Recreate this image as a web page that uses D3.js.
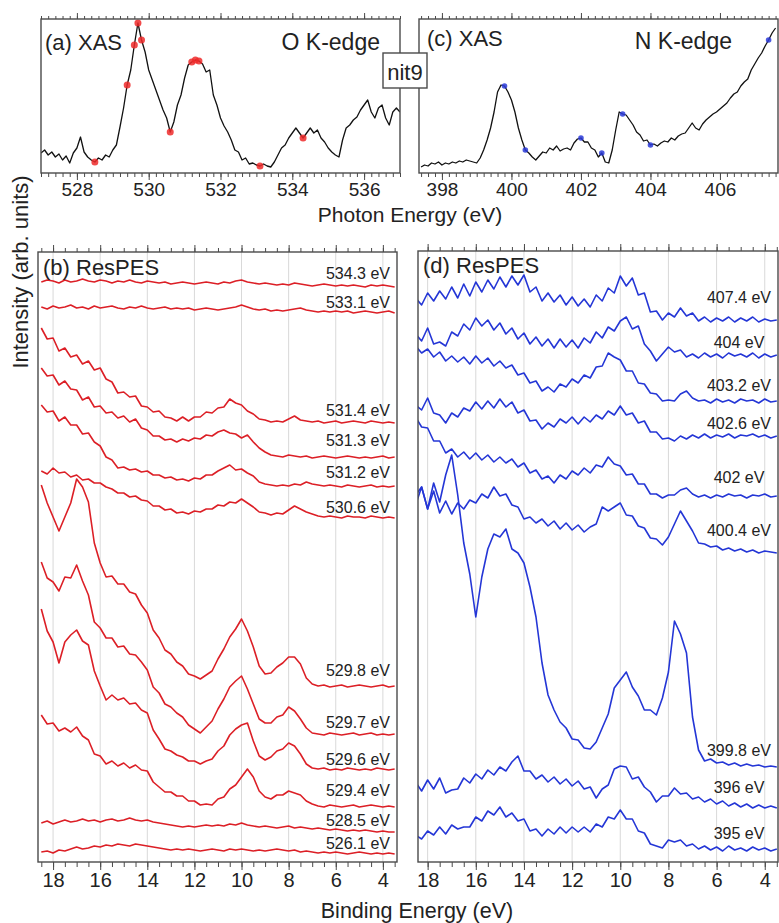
<!DOCTYPE html>
<html><head><meta charset="utf-8">
<script src="https://cdn.jsdelivr.net/npm/d3@7/dist/d3.min.js"></script>
<style>
body{margin:0;background:#fff}
text{font-family:"Liberation Sans",Arial,Helvetica,sans-serif;fill:#222}
</style></head>
<body><svg id="fig" width="779" height="923"></svg>
<script>
// ---------------- DATA ----------------
// XAS O K-edge: photon energy 527.0 .. 537.0 (0.1 eV steps)
const photonStartO = 527.0, photonStepO = 0.1;
const xasO = [20,23,18,21,16,19,13,17,10,20,
25,36,21,16,13,11,15,13,18,16,
23,28,46,65,88,103,128,150,133,121,
103,93,83,73,63,55,41,51,68,78,
95,108,111,113,112,109,101,103,78,68,
55,47,41,33,23,21,13,15,9,10,
8,7,9,7,6,11,18,25,28,35,
40,45,40,35,40,45,40,43,35,31,
25,21,18,16,33,45,48,53,56,63,
68,73,61,55,65,68,55,48,61,65,
61];
const markersO = [528.5,529.4,529.6,529.7,529.8,530.6,531.2,531.3,531.4,533.1,534.3];

// XAS N K-edge: photon energy 397.4 .. 407.6 (0.1 eV steps)
const photonStartN = 397.4, photonStepN = 0.1;
const xasN = [6,8,7,10,9,11,8,10,9,11,
10,12,11,13,12,11,10,15,23,33,
45,61,81,88,87,81,73,61,45,33,
23,20,16,13,17,21,20,25,23,27,
22,24,25,23,30,34,35,31,31,25,
23,16,20,11,10,23,43,61,59,58,
53,48,41,38,32,33,28,29,27,30,
32,31,35,33,37,39,40,45,50,45,
43,49,53,56,59,61,64,67,70,75,
79,81,87,91,94,103,109,115,120,127,
133,140,145];
const markersN = [399.8,400.4,402,402.6,403.2,404,407.4];

// ResPES binding energy grid: 18.5 .. 3.5 eV (0.25 eV steps)
const beStart = 18.5, beStep = -0.25, beCount = 61;

// (b) O K-edge ResPES
const labelsB = ["534.3 eV","533.1 eV","531.4 eV","531.3 eV","531.2 eV","530.6 eV","529.8 eV","529.7 eV","529.6 eV","529.4 eV","528.5 eV","526.1 eV"];
const offsetsB = [575,549,439,404,375,344,175,127,92,55,30,7];
const b5343 = [5,7,6,4,7,5,6,8,6,5,7,6,4,6,5,7,5,4,6,5,4,5,3,4,5,4,3,4,5,4,3,5,4,6,7,5,4,3,4,3,2,3,2,4,3,2,1,2,3,2,1,2,1,2,1,0,2,1,2,1,0];
const b5331 = [6,4,7,5,6,8,5,6,4,7,5,6,7,5,4,6,5,7,5,4,5,6,4,5,4,5,3,4,5,4,3,4,5,6,8,6,4,3,4,2,3,2,3,4,5,3,2,1,2,1,2,1,2,0,1,2,1,0,1,2,0];
const b5314 = [95,84,85,72,75,66,68,59,62,53,55,44,41,30,31,26,27,17,16,11,12,6,5,2,6,2,6,6,11,10,15,16,24,20,18,12,9,4,3,1,2,1,4,7,3,2,1,2,0,1,2,0,1,2,1,0,2,1,0,1,0];
const b5313 = [90,82,83,73,77,69,68,58,61,51,52,45,46,40,42,36,39,30,28,22,22,18,19,16,19,17,20,19,23,22,26,28,25,24,20,23,16,10,6,3,2,1,3,2,1,2,0,1,2,1,0,1,2,1,0,1,0,1,2,0,1];
const b5312 = [82,75,76,66,70,62,62,53,54,45,41,30,27,19,20,17,18,15,16,12,12,9,10,7,8,6,9,8,12,12,16,19,22,17,18,14,11,5,3,2,1,2,1,3,2,5,3,2,1,2,1,0,2,1,0,1,2,0,1,0,1];
const b5306 = [47,44,50,45,46,41,43,38,39,35,35,31,29,25,25,21,22,18,17,12,12,8,9,5,6,4,7,6,9,9,13,12,16,15,19,15,11,6,5,3,5,4,8,12,9,6,4,2,1,2,1,0,2,1,1,0,2,1,0,1,0];
const b5298 = [202,184,170,156,170,184,208,200,185,144,124,110,111,103,103,95,93,82,74,57,49,37,33,25,21,13,11,8,12,16,28,38,50,58,68,56,40,21,13,14,20,24,30,30,23,9,3,1,2,0,1,2,0,1,2,1,0,1,2,0,1];
const b5297 = [173,157,153,144,158,157,170,154,140,113,107,97,97,88,89,81,80,73,65,48,42,31,28,22,18,10,6,2,8,14,26,36,48,54,59,46,31,16,12,12,18,20,28,24,16,7,2,1,0,2,1,0,1,2,0,1,2,0,1,0,1];
const b5296 = [161,139,128,107,128,135,140,129,125,99,84,70,75,70,72,66,67,60,57,40,31,21,19,15,13,9,9,6,9,11,19,24,35,41,45,47,29,14,10,13,19,21,27,24,16,6,2,1,2,0,1,0,2,1,0,1,0,2,1,0,1];
const b5294 = [92,83,84,76,79,75,80,71,67,53,51,43,46,41,44,39,42,37,36,25,20,15,15,11,11,6,6,2,3,2,8,10,18,22,30,38,30,16,10,8,12,12,16,14,12,6,3,1,0,2,1,0,1,2,0,1,2,1,0,1,0];
const b5285 = [9,11,8,10,12,10,11,13,11,12,10,12,13,11,12,14,12,11,12,10,9,8,7,6,5,6,5,6,7,6,7,6,8,7,9,7,6,5,6,5,4,5,6,4,5,4,3,4,3,2,3,2,1,2,1,2,1,0,1,0,0];
const b5261 = [3,4,2,5,4,6,8,6,7,9,8,10,9,11,10,9,11,10,9,8,7,6,5,6,5,6,5,4,5,6,5,4,6,5,6,5,4,5,4,5,6,5,4,5,3,4,3,2,3,2,3,2,1,2,3,2,1,2,1,2,1];
const seriesB = [b5343,b5331,b5314,b5313,b5312,b5306,b5298,b5297,b5296,b5294,b5285,b5261];

// (d) N K-edge ResPES
const labelsD = ["407.4 eV","404 eV","403.2 eV","402.6 eV","402 eV","400.4 eV","399.8 eV","396 eV","395 eV"];
const offsetsD = [540,505,460,425,365,309,95,54,12];
const d4074 = [24,17,29,21,31,23,35,24,38,26,40,30,42,33,45,35,46,37,47,30,35,21,29,20,27,17,25,16,23,15,27,21,34,29,46,36,44,27,29,10,11,2,9,5,14,6,9,1,5,0,4,1,5,0,4,1,5,0,3,1,2];
const d4040 = [23,16,29,13,15,11,25,21,33,27,39,31,37,27,34,23,29,18,24,13,20,11,18,9,18,10,17,9,19,14,25,19,30,26,36,40,28,31,13,6,-4,3,10,5,7,0,3,-1,4,0,3,-1,4,1,3,0,4,-1,3,0,2];
const d4032 = [56,49,53,45,50,41,46,40,45,38,46,39,44,36,41,34,37,27,29,19,21,11,15,10,18,15,23,19,27,24,35,36,49,45,42,31,31,19,18,9,8,1,2,1,8,11,4,1,2,-1,3,0,2,-1,3,1,2,-1,3,0,1];
const d4026 = [32,27,39,24,22,14,24,20,29,26,35,28,36,29,38,30,35,24,27,16,17,8,14,10,18,14,20,13,20,15,22,18,26,22,31,22,24,14,16,5,5,-2,-1,-4,1,-2,2,-1,3,-1,2,0,3,-1,2,1,3,0,2,-1,1];
const d4020 = [80,70,69,56,56,44,48,40,45,38,44,37,42,35,40,34,38,30,34,24,27,18,21,14,22,18,26,22,29,24,32,30,40,33,31,22,23,13,13,3,3,-1,2,2,7,9,3,0,2,-1,2,0,3,1,2,-1,2,1,3,0,1];
const d4004 = [58,66,44,62,40,52,39,50,44,53,50,59,55,66,57,59,48,46,34,36,30,34,27,32,24,30,23,28,21,26,29,46,42,46,50,38,37,27,25,15,14,8,16,29,42,32,22,10,9,6,7,3,5,2,4,1,3,0,2,1,0];
const d3998 = [262,280,258,284,265,292,312,272,224,193,150,190,218,233,230,238,218,214,204,180,150,104,72,57,45,39,28,27,19,18,25,39,53,79,87,95,80,71,57,57,52,69,95,146,133,114,50,17,6,8,4,5,2,4,1,3,1,2,0,1,0];
const d3960 = [26,17,28,19,30,15,18,19,30,25,34,29,38,33,41,37,46,52,37,37,29,33,26,31,24,29,22,27,19,21,10,19,23,39,42,41,29,31,21,16,6,12,12,20,14,15,9,11,6,9,4,7,2,5,1,4,0,3,0,2,0];
const d3950 = [15,11,19,15,23,16,25,21,23,23,33,29,39,35,43,33,37,29,31,19,21,14,21,16,23,17,23,18,23,18,26,23,33,31,40,31,31,19,17,6,4,2,10,8,10,4,6,1,4,0,3,-1,4,0,2,-1,3,0,2,-1,1];
const seriesD = [d4074,d4040,d4032,d4026,d4020,d4004,d3998,d3960,d3950];

const tickLabelsO = [528,530,532,534,536];
const tickLabelsN = [398,400,402,404,406];
const tickLabelsBE = [18,16,14,12,10,8,6,4];

// ---------------- LAYOUT / STYLE ----------------
const labelLiftB = [14,11,13,18,15,11,17,13,11,17,12,12];
const labelLiftD = [25,15,17,14,20,23,17,21,17];
const RED = "#dc1f26", BLUE = "#2436d6", FRAME = "#4a4a4a";

const svg = d3.select("#fig");
const P = {
  a:{x0:41,x1:400,y0:19,y1:173,dom:[527,537],ydom:[0,154]},
  c:{x0:419,x1:778,y0:19,y1:173,dom:[397.34,407.67],ydom:[0,154]},
  b:{x0:38,x1:397,y0:252,y1:862,dom:[18.64,3.4],ydom:[0,610]},
  d:{x0:418,x1:778,y0:251,y1:862,dom:[18.4,3.45],ydom:[0,611]}
};
for (const k in P){
  const p=P[k];
  p.x=d3.scaleLinear().domain(p.dom).range([p.x0,p.x1]);
  p.y=d3.scaleLinear().domain(p.ydom).range([p.y1,p.y0]);
  svg.append("clipPath").attr("id","clip"+k).append("rect")
    .attr("x",p.x0).attr("y",p.y0).attr("width",p.x1-p.x0).attr("height",p.y1-p.y0);
}

function ticks(p, minorVals, majorVals, labels, minorB, majorB, minorT, majorT, fs){
  const gB = svg.append("g").attr("transform",`translate(0,${p.y1})`);
  gB.call(d3.axisBottom(p.x).tickValues(minorVals).tickSize(minorB).tickFormat(""));
  gB.call(g=>g.select(".domain").remove());
  const gB2 = svg.append("g").attr("transform",`translate(0,${p.y1})`);
  gB2.call(d3.axisBottom(p.x).tickValues(majorVals).tickSize(majorB).tickPadding(3).tickFormat(d=>labels.includes(d)?d:""));
  gB2.call(g=>g.select(".domain").remove());
  gB2.selectAll("text").style("font-size",fs+"px").attr("fill","#222");
  const gT = svg.append("g").attr("transform",`translate(0,${p.y0})`);
  gT.call(d3.axisTop(p.x).tickValues(minorVals).tickSize(minorT).tickFormat(""));
  gT.call(g=>g.select(".domain").remove());
  const gT2 = svg.append("g").attr("transform",`translate(0,${p.y0})`);
  gT2.call(d3.axisTop(p.x).tickValues(majorVals).tickSize(majorT).tickFormat(""));
  gT2.call(g=>g.select(".domain").remove());
  svg.selectAll(".tick line").attr("stroke",FRAME).attr("stroke-width",1);
}
function inDom(p,v){const a=Math.min(...p.dom),b=Math.max(...p.dom);return v>=a-1e-9&&v<=b+1e-9;}

// ---- Top panels ticks
for (const k of ["a","c"]){
  const p=P[k];
  const lo=Math.ceil(Math.min(...p.dom)*5)/5, hi=Math.max(...p.dom);
  const minor=[]; for(let v=lo; v<=hi+1e-9; v=+(v+0.2).toFixed(2)) minor.push(+v.toFixed(2));
  const major=[]; for(let v=Math.ceil(Math.min(...p.dom)); v<=hi; v++) major.push(v);
  const labs = k==="a"?tickLabelsO:tickLabelsN;
  ticks(p, minor, major.filter(v=>v%2===0), labs, 4, 7, 3, 6, 19);
}
// ---- Bottom panels: grid + ticks
for (const k of ["b","d"]){
  const p=P[k];
  svg.append("g").selectAll("line").data(tickLabelsBE).join("line")
    .attr("x1",d=>p.x(d)).attr("x2",d=>p.x(d)).attr("y1",p.y0).attr("y2",p.y1)
    .attr("stroke","#d9d9d9").attr("stroke-width",1);
  const minor=[]; for(let v=18.5; v>=3.5; v-=0.5) if(inDom(p,v)) minor.push(v);
  ticks(p, minor, tickLabelsBE, tickLabelsBE, 5, 8, 4, 7, 20);
}

// ---- XAS curves
function xasPanel(p, start, step, vals, marks, color, r, k){
  const pts = vals.map((v,i)=>[+(start+i*step).toFixed(2), v]);
  svg.append("path").datum(pts).attr("clip-path",`url(#clip${k})`)
    .attr("d",d3.line().x(d=>p.x(d[0])).y(d=>p.y(d[1])))
    .attr("fill","none").attr("stroke","#111").attr("stroke-width",1.3).attr("stroke-linejoin","round");
  const interp = e => { const f=(e-start)/step, i=Math.floor(f), t=f-i;
    const a=vals[Math.max(0,Math.min(vals.length-1,i))], b=vals[Math.max(0,Math.min(vals.length-1,i+1))]; return a+(b-a)*t; };
  svg.append("g").selectAll("circle").data(marks.filter(e=>inDom(p,e))).join("circle")
    .attr("cx",d=>p.x(d)).attr("cy",d=>p.y(interp(d))).attr("r",r).attr("fill",color).attr("opacity",0.85);
}
xasPanel(P.a, photonStartO, photonStepO, xasO, markersO, "#ee2a2a", 3.5, "a");
xasPanel(P.c, photonStartN, photonStepN, xasN, markersN, "#2a3ad8", 2.8, "c");

// ---- ResPES curves
function pesPanel(p, series, offsets, labels, lifts, color, k){
  const g = svg.append("g").attr("clip-path",`url(#clip${k})`);
  series.forEach((s,j)=>{
    g.append("path").datum(s)
      .attr("d",d3.line().x((d,i)=>p.x(beStart+i*beStep)).y(d=>p.y(offsets[j]+d)))
      .attr("fill","none").attr("stroke",color).attr("stroke-width",1.6).attr("stroke-linejoin","round");
  });
  svg.append("g").selectAll("text").data(labels).join("text")
    .attr("x",p.x1-39).attr("y",(d,j)=>p.y(offsets[j]+lifts[j]))
    .attr("text-anchor","middle").attr("dominant-baseline","central")
    .style("font-size","16px").text(d=>d);
}
pesPanel(P.b, seriesB, offsetsB, labelsB, labelLiftB, RED, "b");
pesPanel(P.d, seriesD, offsetsD, labelsD, labelLiftD, BLUE, "d");

// ---- frames
for (const k in P){
  const p=P[k];
  svg.append("rect").attr("x",p.x0).attr("y",p.y0).attr("width",p.x1-p.x0).attr("height",p.y1-p.y0)
    .attr("fill","none").attr("stroke",FRAME).attr("stroke-width",1.4);
}

// ---- texts
const T=(x,y,s,size,anchor)=>svg.append("text").attr("x",x).attr("y",y).attr("text-anchor",anchor||"start").style("font-size",size+"px").text(s);
T(45,50,"(a) XAS",22);
T(380,50,"O K-edge",23,"end");
T(427,46,"(c) XAS",22);
T(732,49,"N K-edge",23,"end");
T(43,275,"(b) ResPES",22);
T(423,273,"(d) ResPES",22);
T(410,222,"Photon Energy (eV)",21,"middle");
T(417,918,"Binding Energy (eV)",21.5,"middle");
svg.append("text").attr("transform","translate(28,272) rotate(-90)").attr("text-anchor","middle")
  .style("font-size","22px").text("Intensity (arb. units)");
svg.append("rect").attr("x",383).attr("y",53).attr("width",44).attr("height",35)
  .attr("fill","#fff").attr("stroke",FRAME).attr("stroke-width",1.4);
T(405,80,"nit9",22,"middle");
</script></body></html>
